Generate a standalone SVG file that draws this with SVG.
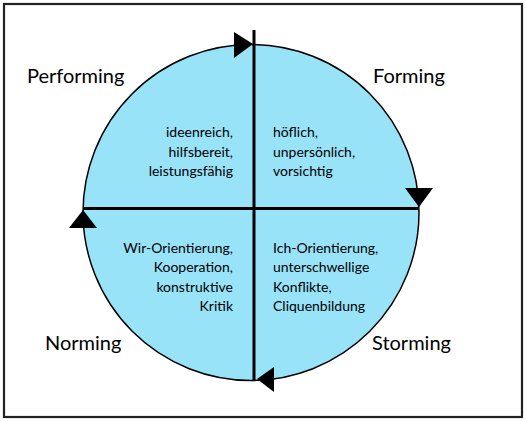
<svg xmlns="http://www.w3.org/2000/svg" width="526" height="421" viewBox="0 0 526 421">
<style>
.big{font-family:Lato,"Open Sans","Liberation Sans",sans-serif;font-size:20px;fill:#000}
.small{font-family:Lato,"Open Sans","Liberation Sans",sans-serif;font-size:14px;fill:#000}
.r{text-anchor:end}
.axis{stroke:#000;stroke-width:3;fill:none}
.head{fill:#000}
</style>
<rect x="0" y="0" width="526" height="421" fill="#fff"/>
<rect x="4" y="4" width="518" height="413" fill="none" stroke="#222" stroke-width="2.2"/>
<g id="circle">
<circle cx="251" cy="212.5" r="168" fill="#98E3F8" stroke="#000" stroke-width="1.5"/>
</g>
<g id="connectors">
<line class="axis" x1="254" y1="30" x2="254" y2="380"/>
<line class="axis" x1="83" y1="208.5" x2="418" y2="208.5"/>
<polygon class="head" points="234,32 253,44 234,58"/>
<polygon class="head" points="405,188 433,188 419,207"/>
<polygon class="head" points="257,379 274,367 274,392"/>
<polygon class="head" points="83,210 97,228 69,228"/>
</g>
<g id="performing">
<text class="big" x="27" y="83">Performing</text>
<text class="small r" x="233" y="137">ideenreich,</text>
<text class="small r" x="233" y="156.5">hilfsbereit,</text>
<text class="small r" x="233" y="176">leistungsfähig</text>
</g>
<g id="forming">
<text class="big" x="373" y="83">Forming</text>
<text class="small" x="273" y="137">höflich,</text>
<text class="small" x="273" y="156.5">unpersönlich,</text>
<text class="small" x="273" y="176">vorsichtig</text>
</g>
<g id="norming">
<text class="big" x="45" y="350">Norming</text>
<text class="small r" x="233" y="253">Wir-Orientierung,</text>
<text class="small r" x="233" y="272">Kooperation,</text>
<text class="small r" x="233" y="291.5">konstruktive</text>
<text class="small r" x="233" y="311">Kritik</text>
</g>
<g id="storming">
<text class="big" x="372" y="350">Storming</text>
<text class="small" x="273" y="253">Ich-Orientierung,</text>
<text class="small" x="273" y="272">unterschwellige</text>
<text class="small" x="273" y="291.5">Konflikte,</text>
<text class="small" x="273" y="311">Cliquenbildung</text>
</g>
</svg>
